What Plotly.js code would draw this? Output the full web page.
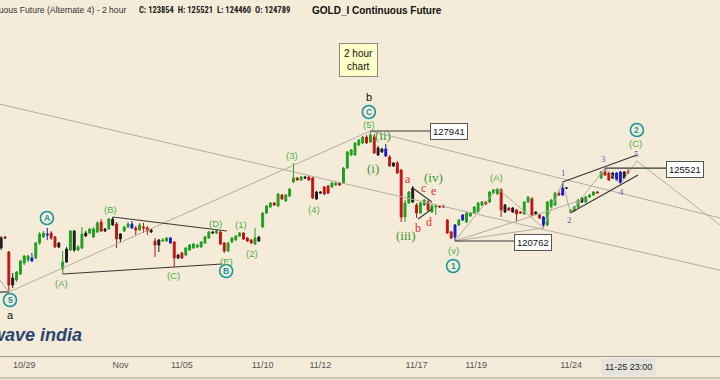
<!DOCTYPE html>
<html><head><meta charset="utf-8">
<script src="https://cdn.plot.ly/plotly-3.0.1.min.js"></script>
<style>html,body{margin:0;padding:0;background:#f4ebd8;}#chart{width:720px;height:380px;}</style>
</head><body><div id="chart"></div>
<script>
// ---- data (2-hour bars, GOLD_I) ----
const openP = [120958,121023,120045,117891,118218,118609,119327,119523,119653,119653,
120632,121023,121219,121284,121023,120632,118935,119392,120175,121415,
120175,120306,121284,121284,121023,121350,122003,121546,121546,122198,
121872,120893,121415,121676,121872,121611,121481,121676,121611,121481,
120762,120501,120762,120762,120958,120697,119653,119979,119849,120175,
120306,120371,120371,120632,120958,121350,121284,121350,120632,120110,
120697,120828,121089,121284,120958,120828,120567,120762,121676,122589,
122981,123242,123047,123764,123373,123699,124613,124874,124744,124939,
124939,124874,123503,123960,124286,124352,124286,124417,124547,124547,
125526,126375,126375,127027,127157,127549,127223,127549,126831,126766,
126766,126244,125852,125852,125396,122328,123242,124221,123112,122589,
123112,123308,122655,122981,123047,123047,122133,121350,121023,121807,
122133,122003,122394,122589,122655,123112,123308,123308,123894,123829,
124091,123112,122916,122916,122786,122655,122524,123308,123503,122655,
122459,121807,121807,122981,123112,123894,123764,124221,122655,122720,
122981,123568,123308,123633,123764,123960,124874,125266,125200,125200,
124744,124547,125266,125266];
const highP = [121089,121089,120110,118674,118805,119523,119849,119849,119979,120697,
121350,121415,121611,121415,121089,120697,120110,120371,121481,121481,
120501,121676,121415,121611,121676,122068,122198,121611,122263,122328,
122003,121284,121742,122003,122068,121742,121937,121937,121742,121546,
120958,120893,120958,121023,121023,120762,119914,120045,120371,120567,
120632,120567,120762,121089,121415,121415,121546,121415,120697,120697,
121023,121154,121350,121350,121023,120893,121611,121089,122655,123112,
123308,123308,123894,123829,123829,124221,125852,124939,125005,125005,
125005,124939,124025,124025,124352,124417,124613,124613,124613,125591,
126636,126766,127223,127419,127615,127680,127941,127745,126962,126831,
127092,126375,125918,125983,125461,123438,124025,124352,123242,123308,
123503,123438,123177,123112,123112,123112,122198,121415,121872,122198,
122524,122655,122655,123047,123308,123373,123373,124025,124156,124221,
124221,123177,122981,122981,122851,122720,123373,123699,123633,122720,
122524,122394,123373,123503,123960,124025,124613,124286,122851,123047,
123503,123633,123699,123829,124025,124025,125331,125521,125266,125266,
125266,125331,125331,125461];
const lowP = [120175,120893,117434,117695,118087,118544,119196,119392,119392,119588,
120501,120958,120828,120828,120306,120306,118609,119327,120110,120045,
120110,120240,121023,121219,120958,121284,121350,121350,121481,121742,
120306,120632,121350,121611,121546,121154,121415,121284,121154,121284,
119718,120045,120697,120697,120567,119065,119588,119588,119784,120110,
120240,120306,120306,120567,120893,121219,121219,120501,119979,120045,
120632,120762,121023,120828,120697,120567,120501,120697,121611,122524,
122916,123047,122981,123438,123308,123633,124547,124678,124678,124809,
124678,123503,123438,123829,123764,123829,124221,124352,124352,124482,
125461,126310,126310,126962,127092,127092,127157,126440,126310,126505,
126244,125591,125591,125135,122003,122003,123177,123242,122263,122524,
123047,122720,122589,122459,122916,122916,121219,120893,120762,121742,
122068,121937,122328,122524,122589,123047,123112,123242,123829,123764,
122328,122589,122720,122589,122003,122524,122459,123242,122394,122459,
122198,121611,121742,122916,123047,123699,123699,124156,122589,122655,
122916,123242,123242,123568,123699,123894,124809,125005,124678,124809,
124678,124482,124809,125135];
const closeP = [120306,120958,117891,118348,118740,119457,119784,119784,119457,120632,
121219,121284,121154,120958,120371,120371,119392,120240,121415,120175,
120371,121219,121089,121546,121546,121937,121415,121415,122198,121807,
120893,121219,121676,121872,121611,121481,121807,121611,121415,121350,
120501,120828,120828,120958,120632,119653,119849,119653,120306,120501,
120567,120501,120697,121023,121350,121284,121415,120567,120110,120632,
120958,121089,121284,120893,120762,120632,120958,121023,122589,123047,
123242,123112,123829,123503,123764,124156,124874,124744,124939,124874,
124744,123568,123960,123894,123829,123894,124547,124547,124417,125526,
126571,126701,127157,127354,127549,127157,127680,126505,126375,126571,
126310,125657,125657,125200,122328,123242,123960,123308,122589,123242,
123438,122786,123047,123047,122981,122981,121284,120958,121807,122133,
122459,122589,122589,122981,123242,123308,123177,123960,124091,124156,
122786,122655,122786,122655,122524,122589,123308,123633,122459,122524,
122263,122328,123308,123438,123894,123764,124221,124221,122786,122981,
123438,123308,123633,123764,123960,123900,125266,125070,124744,124874,
125200,125266,124874,125200];
// candle class: g = up, r = down, k = neutral/black, b = blue marker bar
const candleType = ("krrkggggbg"+"ggbrrkgkgk"+"ggkgggrkgk"+"rkggbrgrrk"+"rkggbrkrgg"+
  "gggggkgrrg"+"gggrrrgkgg"+"grgrgggrgk"+"rrkkrrggrg"+"gggggrgrkk"+
  "brkrrggkrg"+"grggrrrrbg"+"bgggggrggg"+"rkrkrrggrk"+"rbgggrbkgg"+
  "gkgggrgrrk"+"bbkr").split("");
const tickIdx = [6, 31, 47, 68, 83, 108, 123.5, 148.2];
const tickText = ["10/29","Nov","11/05","11/10","11/12","11/17","11/19","11/24"];
const lastBarLabel = "11-25 23:00";
const levelLabels = [127941, 120762, 125521];

// ---- styles ----
const BG = "#f4ebd8";
const COLORS = {g:"#1f9f1f", r:"#c01414", k:"#1c1c1c", b:"#1a1ad0"};
const GREEN = "#4fae4a", TEAL = "#16979b", RED = "#e5342b", PURPLE = "#7d52b8";
const SANS = "Liberation Sans, Arial, sans-serif";
const NARROW = "Liberation Sans Narrow, Roboto Condensed, Liberation Sans, sans-serif";
const SERIF = "Liberation Serif, DejaVu Serif, serif";
const GRAYLINE = "#b4ad9f", DARK = "#383838";

const traces = Object.keys(COLORS).map(k => {
  const t = {type:"candlestick", x:[], open:[], high:[], low:[], close:[],
    increasing:{line:{color:COLORS[k], width:1}, fillcolor:COLORS[k]},
    decreasing:{line:{color:COLORS[k], width:1}, fillcolor:COLORS[k]},
    whiskerwidth:0, hoverinfo:"skip", showlegend:false};
  candleType.forEach((c,i) => { if (c===k) { t.x.push(i); t.open.push(openP[i]); t.high.push(highP[i]); t.low.push(lowP[i]); t.close.push(closeP[i]); } });
  return t;
});

function seg(x0,y0,x1,y1,color,w){return {type:"line",xref:"x",yref:"y",x0,y0,x1,y1,line:{color,width:w},layer:"above"};}
const N = openP.length;
const shapes = [
  seg(-0.3,118218, 2,lowP[2], GRAYLINE,1),
  seg(2,lowP[2], 96,highP[96], GRAYLINE,1),
  seg(-0.3,129686, 186.9,118854, GRAYLINE,1),
  seg(96,highP[96], 186.9,122263, GRAYLINE,1),
  seg(118,lowP[118], 129,highP[129], GRAYLINE,1),
  seg(129,highP[129], 141,lowP[141], GRAYLINE,1),
  seg(118,lowP[118], 141,lowP[141], GRAYLINE,1),
  seg(141,lowP[141], 146,highP[146], GRAYLINE,1),
  seg(146,highP[146], 148,lowP[148], GRAYLINE,1),
  seg(118,lowP[118], 151,123438, GRAYLINE,1),
  seg(148,lowP[148], 157,highP[157], GRAYLINE,1),
  seg(157,highP[157], 161,lowP[161], GRAYLINE,1),
  seg(161,lowP[161], 165.3,125983, GRAYLINE,1),
  seg(165.3,125983, 186.9,121807, GRAYLINE,1),
  seg(-0.3,lowP[2], 2,lowP[2], DARK,1.2),
  seg(29,highP[29], 58.7,121415, DARK,1.2),
  seg(16,lowP[16], 57.4,119262, DARK,1.2),
  seg(107,124221, 112,123308, DARK,1.2),
  seg(108.4,122198, 112,122851, DARK,1.2),
  seg(146,highP[146], 165.3,126375, DARK,1.2),
  seg(148,lowP[148], 165.6,125070, DARK,1.2),
  seg(96,levelLabels[0], 111.8,levelLabels[0], DARK,1.2),
  seg(118,levelLabels[1], 133.6,levelLabels[1], DARK,1.2),
  seg(157,levelLabels[2], 173.4,levelLabels[2], DARK,1.2),
  {type:"line", xref:"paper", yref:"paper", x0:0, x1:1, y0:-0.0655, y1:-0.0655, line:{color:"#a39d92", width:1}}
];
// teal circled wave degree labels
const circles = [["5",2.3,116912],["A",11.9,122263],["B",58.5,118805],["C",95.6,129181],["1",117.5,119131],["2",165.3,128006]];
circles.forEach(([t,x,y]) => shapes.push({type:"circle", xref:"x", yref:"y", xsizemode:"pixel", ysizemode:"pixel",
  xanchor:x, yanchor:y, x0:-6.5, x1:6.5, y0:-6.5, y1:6.5, line:{color:TEAL, width:1.6}, fillcolor:"rgba(0,0,0,0)"}));

function lab(text,x,y,color,size,family,extra){return Object.assign({text,x,y,xref:"x",yref:"y",showarrow:false,
  font:{color,size,family},xanchor:"center",yanchor:"middle"},extra||{});}
const ann = [];
circles.forEach(([t,x,y]) => ann.push(lab("<b>"+t+"</b>",x,y,TEAL,8.5,SANS)));
[["(A)",15.8,118021],["(B)",28.3,122786],["(C)",44.7,118479],["(D)",55.6,121937],["(E)",58.5,119457],
 ["(1)",62.4,121807],["(2)",65.2,119979],["(3)",75.6,126310],["(4)",81.3,122786],["(5)",95.6,128398],
 ["(v)",117.5,120110],["(A)",128.9,124939],["[B]",141.4,121023],["(C)",164.8,127157]].forEach(([t,x,y]) =>
   ann.push(lab(t,x,y,GREEN,9.5,SANS)));
[["(i)",96.7,125526],["(ii)",99.3,127680],["(iii)",105.3,121154],["(iv)",112.3,124939]].forEach(([t,x,y]) =>
   ann.push(lab(t,x,y,"#3a9a34",13,SERIF)));
[["a",105.8,124809],["c",109.7,124221],["e",112.3,124025],["b",108.4,121611],["d",111.2,122003]].forEach(([t,x,y]) =>
   ann.push(lab(t,x,y,RED,12,SERIF)));
[["1",146.1,125200],["2",147.7,122133],["3",156.7,126114],["4",161.2,123960],["5",165.3,126440]].forEach(([t,x,y]) =>
   ann.push(lab(t,x,y,PURPLE,9,SERIF)));
ann.push(lab("a",2.3,115933,"#111",11,SANS));
ann.push(lab("b",95.6,130160,"#111",11,SANS));
// level boxes
[[levelLabels[0],116.4,127876],[levelLabels[1],138.3,120697],[levelLabels[2],177.8,125461]].forEach(([v,x,y]) =>
  ann.push(lab(String(v),x,y,"#111",9.5,SANS,{bgcolor:"#ffffff",bordercolor:"#555",borderwidth:1,borderpad:2})));
ann.push(lab("2 hour<br>chart",92.8,132574,"#111",10,SANS,{bgcolor:"#ffffc8",bordercolor:"#888",borderwidth:1,borderpad:4}));
// header
const hy = 1 + 10/336;
ann.push({text:"GOLD_I Continuous Future (Alternate 4) - 2 hour", xref:"paper", yref:"paper", x:128/720, y:hy, xanchor:"right", yanchor:"middle", showarrow:false, font:{size:8.6,color:"#333",family:SANS}});
ann.push({text:"<b>C: 123854 &nbsp;H: 125521 &nbsp;L: 124460 &nbsp;O: 124789</b>", xref:"paper", yref:"paper", x:137/720, y:hy, xanchor:"left", yanchor:"middle", showarrow:false, font:{size:8.5,color:"#222",family:NARROW}});
ann.push({text:"<b>GOLD_I Continuous Future</b>", xref:"paper", yref:"paper", x:310/720, y:hy, xanchor:"left", yanchor:"middle", showarrow:false, font:{size:10,color:"#111",family:SANS}});
// last-bar time label and cut Dec label
ann.push({text:lastBarLabel, xref:"x", yref:"paper", x:N-1, y:-11/336, xanchor:"center", yanchor:"middle", showarrow:false, font:{size:9,color:"#222",family:SANS}, bgcolor:"#e4e2dc", borderpad:3});
ann.push({text:"Dec", xref:"paper", yref:"paper", x:718/720, y:-11/336, xanchor:"left", yanchor:"middle", showarrow:false, font:{size:9,color:"#555",family:SANS}});
// watermark
ann.push({text:"<b><i>elliott wave india</i></b>", xref:"paper", yref:"paper", x:84/720, y:1-(335-20)/336, xanchor:"right", yanchor:"middle", showarrow:false, font:{size:18,color:"#2a4472",family:SANS}});

const layout = {
  width:720, height:380, margin:{l:0,r:0,t:20,b:24},
  paper_bgcolor:BG, plot_bgcolor:BG, showlegend:false,
  xaxis:{range:[-0.3,186.9], rangeslider:{visible:false}, tickmode:"array", tickvals:tickIdx, ticktext:tickText,
    showgrid:false, zeroline:false, showline:true, linecolor:"#a39d92", linewidth:1, ticks:"",
    tickfont:{size:9,color:"#555",family:SANS}, fixedrange:true},
  yaxis:{range:[113257,135185], visible:false, fixedrange:true},
  shapes, annotations:ann, hovermode:false
};
Plotly.newPlot("chart", traces, layout, {staticPlot:true, displayModeBar:false});
</script></body></html>
